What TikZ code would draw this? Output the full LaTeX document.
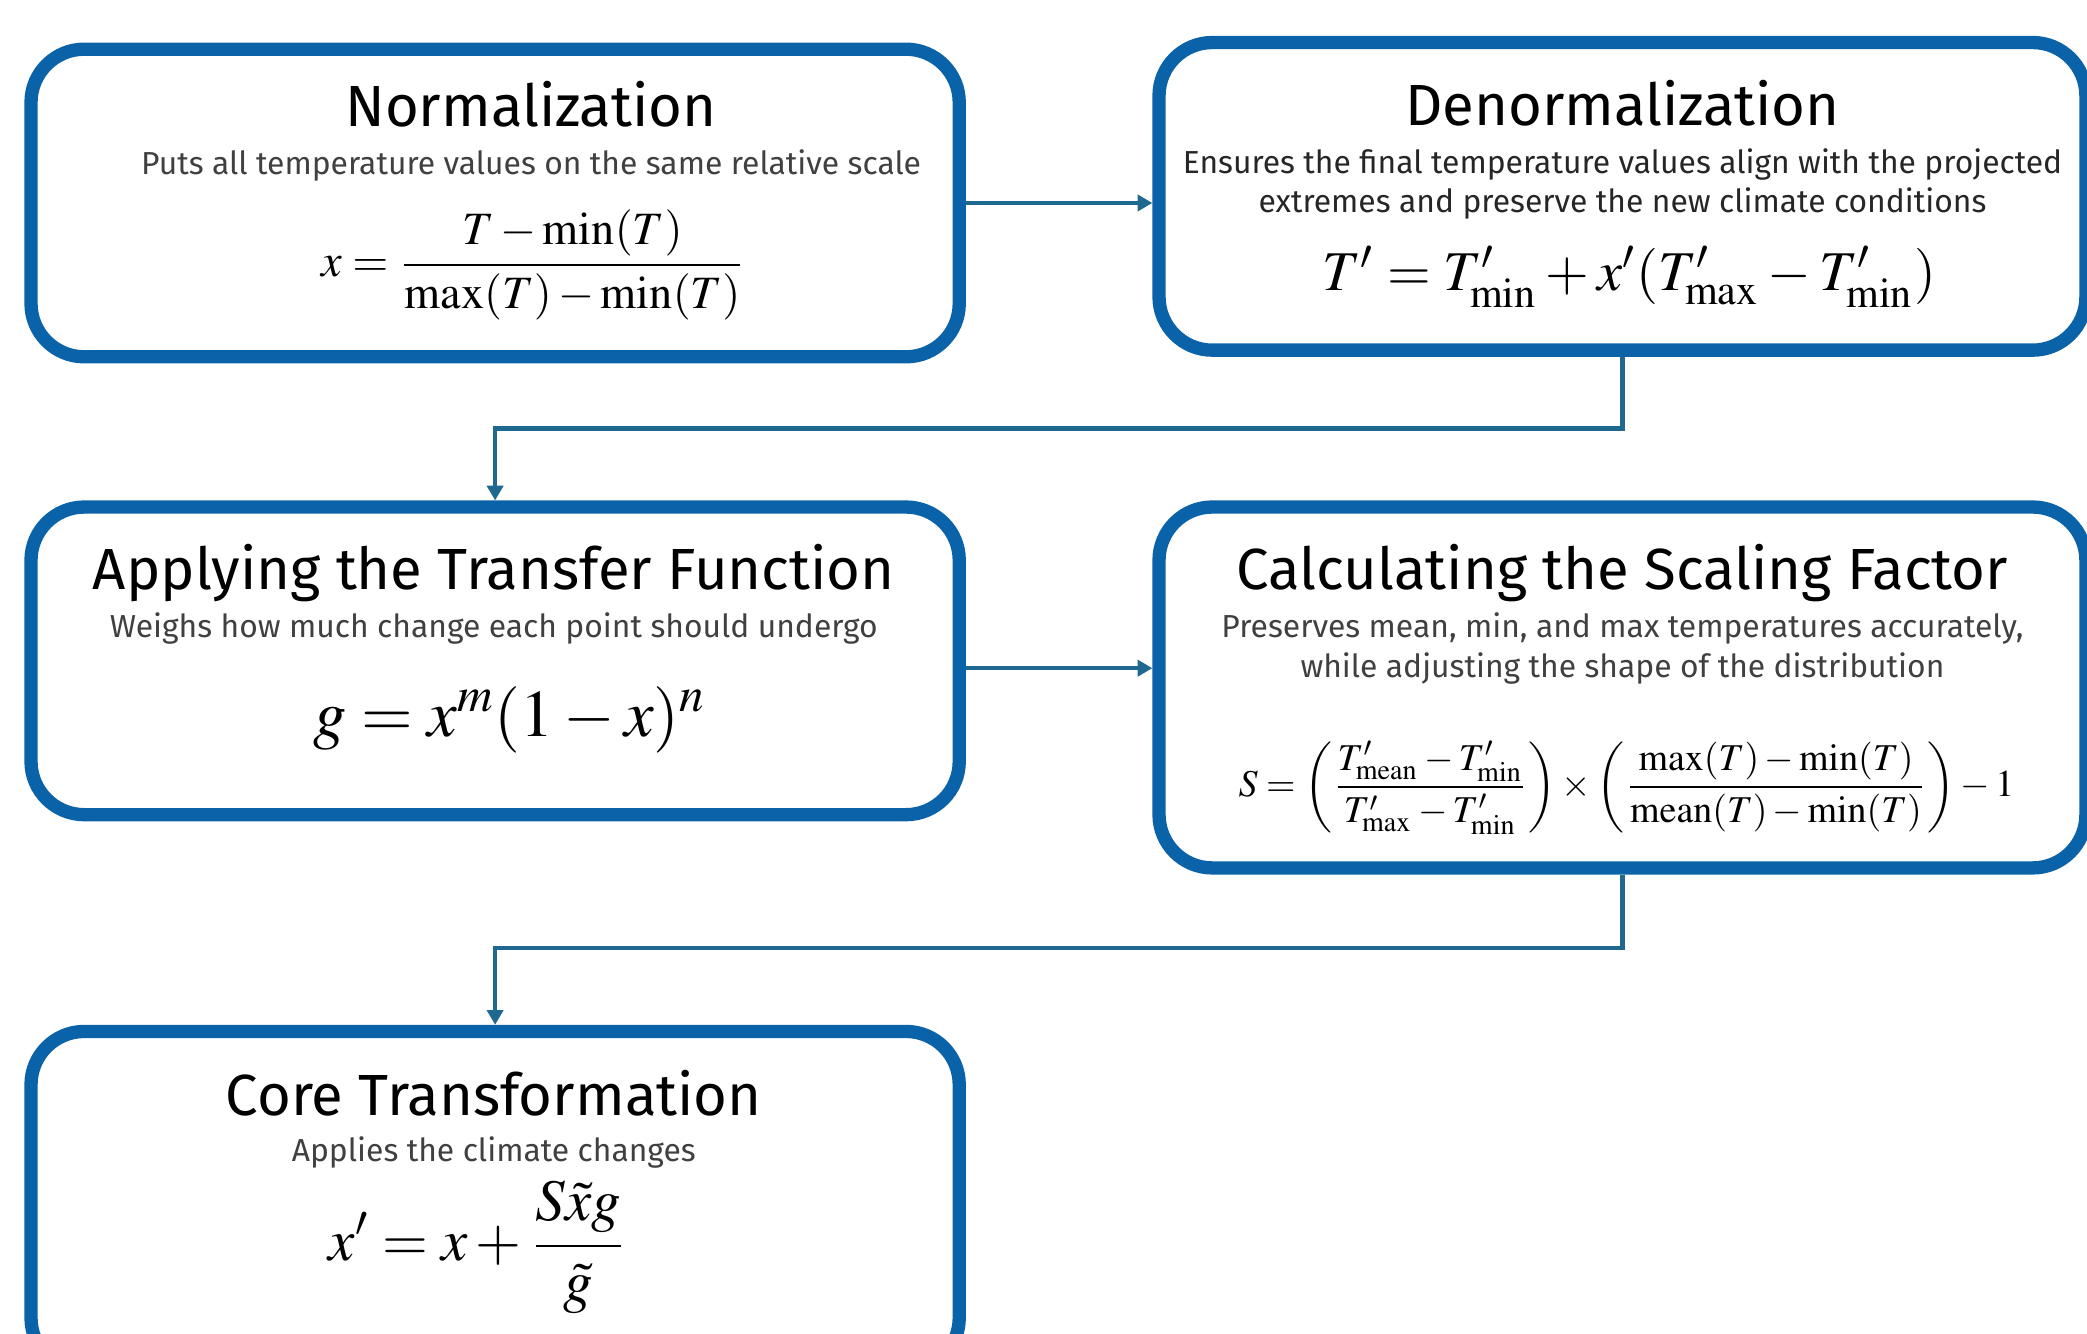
\documentclass[tikz,border=0pt]{standalone}
\usepackage{mathptmx}
\usepackage[no-math]{fontspec}
\setmainfont{Fira Sans}
\usetikzlibrary{arrows.meta,positioning}
\definecolor{stageblue}{HTML}{0A62A8}
\definecolor{linkteal}{HTML}{1F6890}
\definecolor{subgray}{HTML}{404040}
\begin{document}
\begin{tikzpicture}[x=0.01cm,y=-0.01cm]
\tikzset{stagebox/.style={draw=stageblue,line width=1mm,rounded corners=4mm,
                          minimum width=6.97cm,minimum height=2.31cm,inner sep=0pt},
         stagetitle/.style={anchor=base,inner sep=0pt,font=\fontsize{12.4}{15}\selectfont},
         stagenote/.style={anchor=base,inner sep=0pt,align=center,text=subgray,
                           font=\fontsize{6.8}{8.5}\selectfont},
         stagemath/.style={inner sep=0pt},
         link/.style={draw=linkteal,line width=0.9pt,-{Triangle[length=1.1mm,width=1.2mm]}}}
\useasboundingbox (0,0) rectangle (1568,1002);
% the five stages
\node[stagebox] (norm) at (372,152.5) {};
\node[stagebox,minimum width=6.96cm] (denorm) at (1219,147.5) {};
\node[stagebox] (transfer) at (372,496.5) {};
\node[stagebox,minimum width=6.96cm,minimum height=2.71cm] (scaling) at (1219,516.5) {};
\node[stagebox,minimum height=2.55cm] (core) at (372,902.5) {};
% normalization
\node[stagetitle] (normtitle) at (399,95) {Normalization};
\node[stagenote] (normnote) at (399,131) {Puts all temperature values on the same relative scale};
\node[stagemath,font=\fontsize{9.9}{12}\selectfont] (normeq) at (401,199)
    {$\displaystyle x=\frac{T-\min(T)}{\max(T)-\min(T)}$};
% denormalization (base of a two-line note is its last line)
\node[stagetitle] (denormtitle) at (1219,94) {Denormalization};
\node[stagenote,text=black!85] (denormnote) at (1219,160)
    {Ensures the final temperature values align with the projected\\
     extremes and preserve the new climate conditions};
\node[stagemath,anchor=base,font=\fontsize{12}{14}\selectfont] (denormeq) at (1224,218)
    {$T'=T'_{\min}+x'(T'_{\max}-T'_{\min})$};
% transfer function
\node[stagetitle] (transfertitle) at (371,443) {Applying the Transfer Function};
\node[stagenote] (transfernote) at (371,479) {Weighs how much change each point should undergo};
\node[stagemath,anchor=base,font=\fontsize{14.2}{17}\selectfont] (transfereq) at (383,553)
    {$g=x^m(1-x)^n$};
% scaling factor
\node[stagetitle] (scalingtitle) at (1219,443) {Calculating the Scaling Factor};
\node[stagenote] (scalingnote) at (1219,509)
    {Preserves mean, min, and max temperatures accurately,\\
     while adjusting the shape of the distribution};
\node[stagemath,font=\fontsize{8.1}{10}\selectfont] (scalingeq) at (1222,592)
    {$\displaystyle S=\left(\frac{T'_{\mathrm{mean}}-T'_{\min}}{T'_{\max}-T'_{\min}}\right)\times
     \left(\frac{\max(T)-\min(T)}{\mathrm{mean}(T)-\min(T)}\right)-1$};
% core transformation
\node[stagetitle] (coretitle) at (371,838) {Core Transformation};
\node[stagenote] (corenote) at (371,873) {Applies the climate changes};
\node[stagemath,font=\fontsize{12.6}{15}\selectfont] (coreeq) at (359,937)
    {$\displaystyle x'=x+\frac{S\tilde{x}g}{\tilde{g}}$};
% connectors
\coordinate (bendA) at (372,322);
\coordinate (bendB) at (372,712);
\draw[link] (norm.east) -- (norm.east -| denorm.west);
\draw[link] (denorm.south) |- (bendA) -- (transfer.north);
\draw[link] ([yshift=-0.055cm]transfer.east) -- ([yshift=-0.055cm]transfer.east -| scaling.west);
\draw[link] (scaling.south) |- (bendB) -- (core.north);
\end{tikzpicture}
\end{document}
